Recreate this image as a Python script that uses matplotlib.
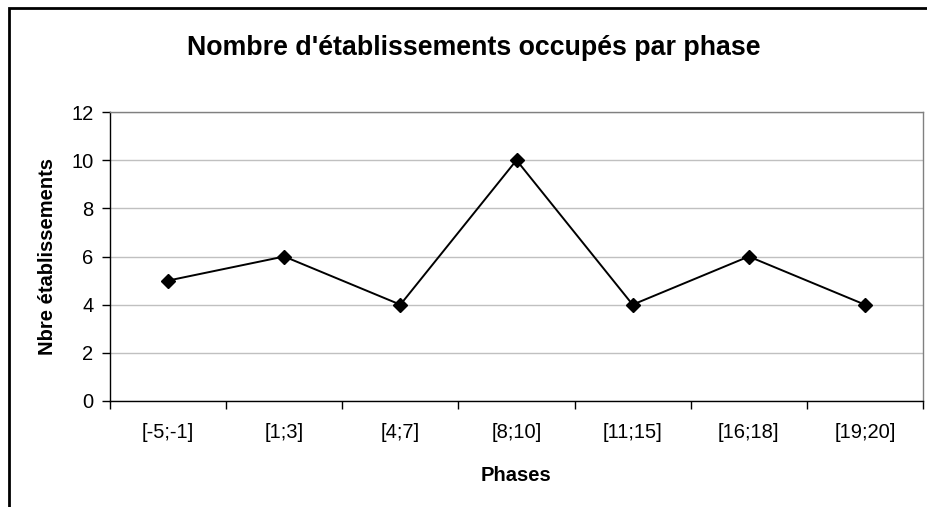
import matplotlib.pyplot as plt
from matplotlib.patches import Rectangle
import numpy as np

plt.rcParams['font.family'] = ['Liberation Sans', 'DejaVu Sans']

phases = ["[-5;-1]", "[1;3]", "[4;7]", "[8;10]", "[11;15]", "[16;18]", "[19;20]"]
nb_etab = [5, 6, 4, 10, 4, 6, 4]
yticks = [0, 2, 4, 6, 8, 10, 12]

W, H = 928, 507
fig = plt.figure(figsize=(W / 100, H / 100), dpi=100)

# plot area in pixel coords
left, right, top, bottom = 110, 923, 112, 401
ax = fig.add_axes([left / W, 1 - bottom / H, (right - left) / W, (bottom - top) / H])

x = np.arange(len(phases))
ax.plot(x, nb_etab, color="black", lw=1.4, marker="D", ms=7.5, zorder=3)

ax.set_xlim(-0.5, len(phases) - 0.5)
ax.set_ylim(0, 12)
ax.set_yticks(yticks)
ax.yaxis.grid(True, color="#c0c0c0", lw=1)
ax.set_axisbelow(True)

ax.set_xticks(x)
ax.set_xticklabels(phases)
ax.set_xticks(np.arange(len(phases) + 1) - 0.5, minor=True)
ax.tick_params(axis="x", which="major", length=0, pad=16, labelsize=14.5)
ax.tick_params(axis="x", which="minor", length=6, width=1, direction="out")
ax.tick_params(axis="y", length=6, width=1, direction="out", labelsize=14.5, pad=6)

for s in ["top", "right"]:
    ax.spines[s].set_color("#808080")
    ax.spines[s].set_linewidth(1)
for s in ["left", "bottom"]:
    ax.spines[s].set_color("black")
    ax.spines[s].set_linewidth(1)

ax.set_xlabel("Phases", fontsize=14.5, fontweight="bold", labelpad=17)
ax.set_ylabel("Nbre établissements", fontsize=14.5, fontweight="bold", labelpad=10)

fig.text(474 / W, 1 - 48 / H, "Nombre d'établissements occupés par phase",
         ha="center", va="center", fontsize=19.3, fontweight="bold")

# chart frame (cut off at right and bottom)
fig.patches.append(Rectangle((9 / W, -0.1), 1.0, 1 - 8 / H + 0.1, transform=fig.transFigure,
                             fill=False, edgecolor="black", lw=2))

fig.savefig("out.png", dpi=100)
